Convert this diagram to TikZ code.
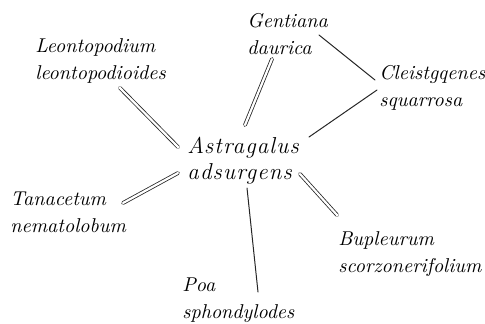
\documentclass[tikz,border=0pt]{standalone}
\usepackage{fontspec}
\setmainfont{Latin Modern Roman}
\tikzset{
  taxon/.style={anchor=north west, inner sep=0pt, align=left, font=\fontsize{10}{13.5}\selectfont\itshape},
  centre/.style={taxon, font=\fontsize{11.5}{13}\selectfont\itshape\addfontfeatures{LetterSpace=5}},
  strong/.style={draw=black!85, line width=0.4pt, double, double distance=1.1pt},
  weak/.style={draw=black!85, line width=0.5pt}
}
\begin{document}
\begin{tikzpicture}[x=0.5pt, y=-0.5pt, line cap=round, line join=round]
  \useasboundingbox (0,0) rectangle (485,323);
  \node[centre] (ast) at (187,137) {Astragalus\\adsurgens};
  \node[taxon] (leo) at (35,38) {Leontopodium\\leontopodioides};
  \node[taxon] (gen) at (247,13) {Gentiana\\daurica};
  \node[taxon] (cle) at (379,65) {Cleistgqenes\\squarrosa};
  \node[taxon] (tan) at (10,192) {Tanacetum\\nematolobum};
  \node[taxon] (poa) at (182,277) {Poa\\sphondylodes};
  \node[taxon] (bup) at (338,231) {Bupleurum\\scorzonerifolium};
  % links
  \draw[strong] ([shift={(85,50)}]leo.north west) -- ([shift={(-9,10)}]ast.north west);
  \draw[strong] ([shift={(25,46)}]gen.north west) -- ([shift={(58,-12)}]ast.north west);
  \draw[weak] ([shift={(72,22)}]gen.north west) -- ([shift={(-4,15)}]cle.north west);
  \draw[weak] ([shift={(-2,25)}]cle.north west) -- ([shift={(122,0)}]ast.north west);
  \draw[strong] ([shift={(113,11)}]tan.north west) -- ([shift={(-9,36)}]ast.north west);
  \draw[weak] ([shift={(60,51)}]ast.north west) -- ([shift={(76,15)}]poa.north west);
  \draw[strong] ([shift={(113,37)}]ast.north west) -- ([shift={(-1,-16)}]bup.north west);
\end{tikzpicture}
\end{document}
